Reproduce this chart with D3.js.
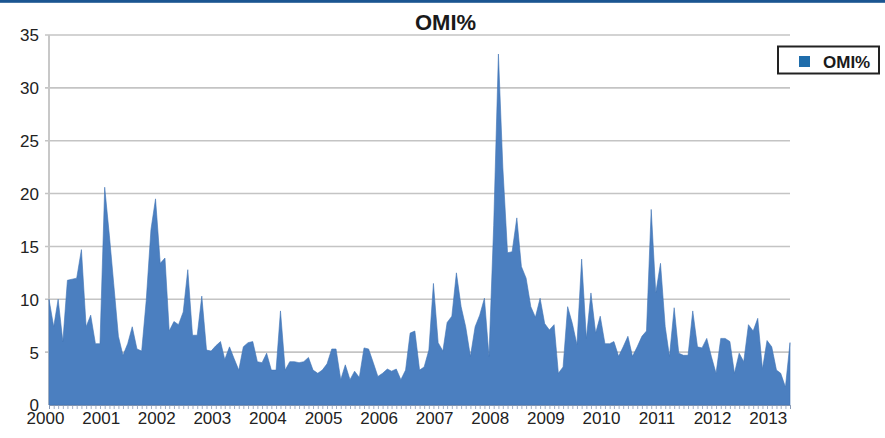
<!DOCTYPE html>
<html>
<head>
<meta charset="utf-8">
<script src="https://cdn.jsdelivr.net/npm/d3@7"></script>
<style>
  html, body { margin: 0; padding: 0; background: #fff; }
  svg { display: block; }
</style>
</head>
<body>
<div id="chart"></div>
<script>
// ---- Data: monthly OMI% values, Jan 2000 .. May 2013 ----
const title = "OMI%";
const seriesName = "OMI%";
const years = [2000, 2001, 2002, 2003, 2004, 2005, 2006, 2007, 2008, 2009, 2010, 2011, 2012, 2013];
const omi2000 = [10.0, 7.4, 10.0, 6.0, 11.8, 11.9, 12.0, 14.7, 7.4, 8.5, 5.8, 5.8];
const omi2001 = [20.6, 16.0, 11.5, 6.5, 4.7, 5.8, 7.4, 5.3, 5.1, 9.9, 16.6, 19.5];
const omi2002 = [13.4, 13.9, 7.0, 7.9, 7.6, 8.8, 12.8, 6.6, 6.6, 10.3, 5.2, 5.1];
const omi2003 = [5.6, 6.0, 4.3, 5.5, 4.4, 3.3, 5.5, 5.9, 6.0, 4.1, 4.0, 4.9];
const omi2004 = [3.3, 3.3, 8.9, 3.3, 4.1, 4.1, 4.0, 4.1, 4.5, 3.3, 3.0, 3.3];
const omi2005 = [3.9, 5.3, 5.3, 2.4, 3.8, 2.4, 3.2, 2.6, 5.4, 5.3, 4.0, 2.7];
const omi2006 = [3.0, 3.4, 3.2, 3.4, 2.4, 3.3, 6.8, 7.0, 3.3, 3.6, 5.2, 11.5];
const omi2007 = [5.9, 5.1, 7.8, 8.4, 12.5, 9.3, 7.4, 4.6, 7.4, 8.5, 10.1, 4.6];
const omi2008 = [17.0, 33.2, 22.5, 14.4, 14.5, 17.7, 13.1, 12.0, 9.3, 8.3, 10.1, 7.7];
const omi2009 = [7.1, 7.6, 3.0, 3.6, 9.3, 7.7, 5.7, 13.8, 6.3, 10.6, 6.8, 8.4];
const omi2010 = [5.8, 5.8, 6.0, 4.6, 5.5, 6.5, 4.6, 5.5, 6.5, 7.0, 18.5, 10.6];
const omi2011 = [13.4, 7.4, 4.6, 9.2, 4.9, 4.7, 4.7, 8.9, 5.5, 5.4, 6.3, 4.6];
const omi2012 = [3.0, 6.3, 6.3, 6.0, 3.0, 4.9, 4.1, 7.6, 7.0, 8.2, 3.4, 6.1];
const omi2013 = [5.5, 3.3, 3.0, 1.7, 5.9];
const yTicks = [0, 5, 10, 15, 20, 25, 30, 35];

const values = [].concat(omi2000, omi2001, omi2002, omi2003, omi2004, omi2005, omi2006,
  omi2007, omi2008, omi2009, omi2010, omi2011, omi2012, omi2013);
const data = values.map((v, i) => ({ date: new Date(2000, i, 1), value: v }));

// ---- Layout ----
const W = 885, H = 438;
const plot = { left: 49, right: 790, top: 35, bottom: 405 };

const svg = d3.select("#chart").append("svg")
  .attr("width", W).attr("height", H)
  .style("font-family", "'Liberation Sans', Arial, sans-serif");

svg.append("rect").attr("width", W).attr("height", H).attr("fill", "#fff");
// top border band
svg.append("rect").attr("x", 0).attr("y", 0).attr("width", W).attr("height", 2.8).attr("fill", "#1b5591");

const x = d3.scaleTime()
  .domain([data[0].date, data[data.length - 1].date])
  .range([plot.left, plot.right]);
const y = d3.scaleLinear().domain([0, 35]).range([plot.bottom, plot.top]);

// gridlines
svg.append("g").selectAll("line").data(yTicks.filter(d => d > 0)).join("line")
  .attr("x1", plot.left - 4).attr("x2", plot.right)
  .attr("y1", d => y(d)).attr("y2", d => y(d))
  .attr("stroke", "#c4c4c4").attr("stroke-width", 1.6);

// y axis line
svg.append("line")
  .attr("x1", plot.left).attr("x2", plot.left)
  .attr("y1", y(35)).attr("y2", y(0))
  .attr("stroke", "#c8c8c8").attr("stroke-width", 2);

// area
const area = d3.area()
  .x(d => x(d.date))
  .y0(y(0))
  .y1(d => y(d.value));
svg.append("path").datum(data)
  .attr("d", area)
  .attr("fill", "#4b7fc0")
  .attr("stroke", "#3f74b6")
  .attr("stroke-width", 0.6);

// monthly tick marks on the x axis
const monthAxis = d3.axisBottom(x)
  .ticks(d3.timeMonth.every(1))
  .tickSize(4)
  .tickFormat("");
const gm = svg.append("g").attr("transform", `translate(0,${y(0)})`).call(monthAxis);
gm.select(".domain").attr("stroke", "#7f93b0").attr("stroke-width", 1);
gm.selectAll(".tick line").attr("stroke", "#8a9bb5").attr("stroke-width", 0.8);

// year labels
const yearAxis = d3.axisBottom(x)
  .tickValues(years.map(yr => new Date(yr, 0, 1)))
  .tickSize(0)
  .tickFormat(d3.timeFormat("%Y"));
const gy = svg.append("g").attr("transform", `translate(0,${y(0)})`).call(yearAxis);
gy.select(".domain").remove();
gy.selectAll("text")
  .attr("dx", -4).attr("y", 7).attr("dy", "0.71em")
  .style("font-size", "17px")
  .style("font-family", "'Liberation Sans', Arial, sans-serif")
  .attr("fill", "#222");

// y labels
const yAxis = d3.axisLeft(y).tickValues(yTicks).tickSize(0).tickPadding(10);
const gyl = svg.append("g").attr("transform", `translate(${plot.left},0.5)`).call(yAxis);
gyl.select(".domain").remove();
gyl.selectAll("text")
  .style("font-size", "17px")
  .style("font-family", "'Liberation Sans', Arial, sans-serif")
  .attr("fill", "#222");

// title
svg.append("text")
  .attr("x", 445.5).attr("y", 29.5)
  .attr("text-anchor", "middle")
  .style("font-size", "22px").style("font-weight", "bold")
  .attr("fill", "#1a1a1a")
  .text(title);

// legend
const lg = svg.append("g");
lg.append("rect").attr("x", 778).attr("y", 46.5).attr("width", 101).attr("height", 27)
  .attr("fill", "#fff").attr("stroke", "#222").attr("stroke-width", 2);
lg.append("rect").attr("x", 799).attr("y", 56).attr("width", 11).attr("height", 11)
  .attr("fill", "#1f6dab");
lg.append("text").attr("x", 823).attr("y", 67.5)
  .style("font-size", "17px").style("font-weight", "bold")
  .attr("fill", "#1a1a1a")
  .text(seriesName);
</script>
</body>
</html>
